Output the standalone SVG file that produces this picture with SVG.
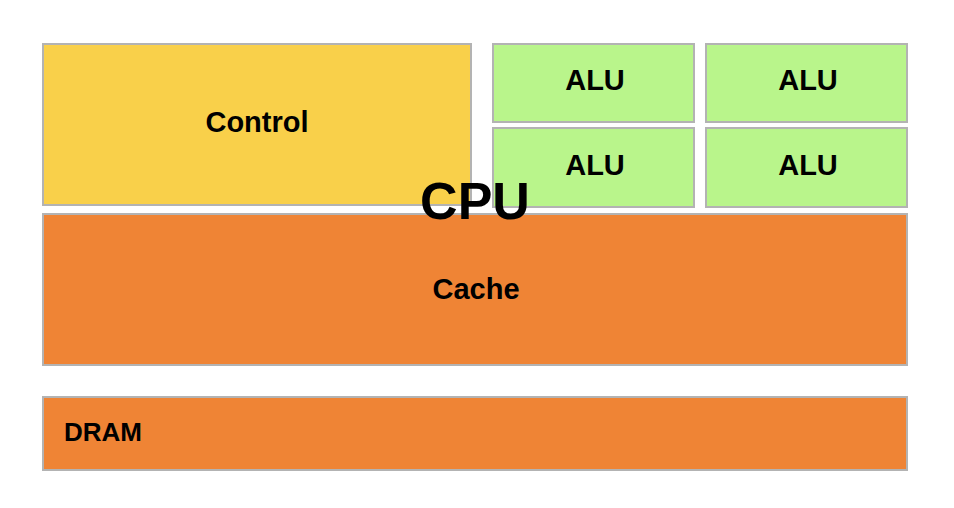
<svg xmlns="http://www.w3.org/2000/svg" width="954" height="508" viewBox="0 0 954 508">
<style>
.box{stroke:#b3b3b3;stroke-width:2}
.ctl{fill:#f9d04a}
.alu{fill:#b9f58b}
.org{fill:#ef8435}
text{font-family:"Liberation Sans",Arial,sans-serif;font-weight:bold;fill:#000}
.lbl{font-size:29px;text-anchor:middle;dominant-baseline:central}
</style>
<rect width="954" height="508" fill="#fff"/>
<g id="control"><rect class="box ctl" x="43" y="44" width="428" height="161"/><text class="lbl" x="257" y="122">Control</text></g>
<g id="alu1"><rect class="box alu" x="493" y="44" width="201" height="78"/><text class="lbl" x="595" y="80">ALU</text></g>
<g id="alu2"><rect class="box alu" x="706" y="44" width="201" height="78"/><text class="lbl" x="808" y="80">ALU</text></g>
<g id="alu3"><rect class="box alu" x="493" y="128" width="201" height="79"/><text class="lbl" x="595" y="165">ALU</text></g>
<g id="alu4"><rect class="box alu" x="706" y="128" width="201" height="79"/><text class="lbl" x="808" y="165">ALU</text></g>
<g id="cache"><rect class="box org" x="43" y="214" width="864" height="151"/><text class="lbl" x="476" y="289">Cache</text></g>
<g id="dram"><rect class="box org" x="43" y="397" width="864" height="73"/><text x="64" y="441" style="font-size:26px">DRAM</text></g>
<g id="cpu"><text x="475" y="219" style="font-size:52px;text-anchor:middle">CPU</text></g>
<g id="connectors"></g>
</svg>
